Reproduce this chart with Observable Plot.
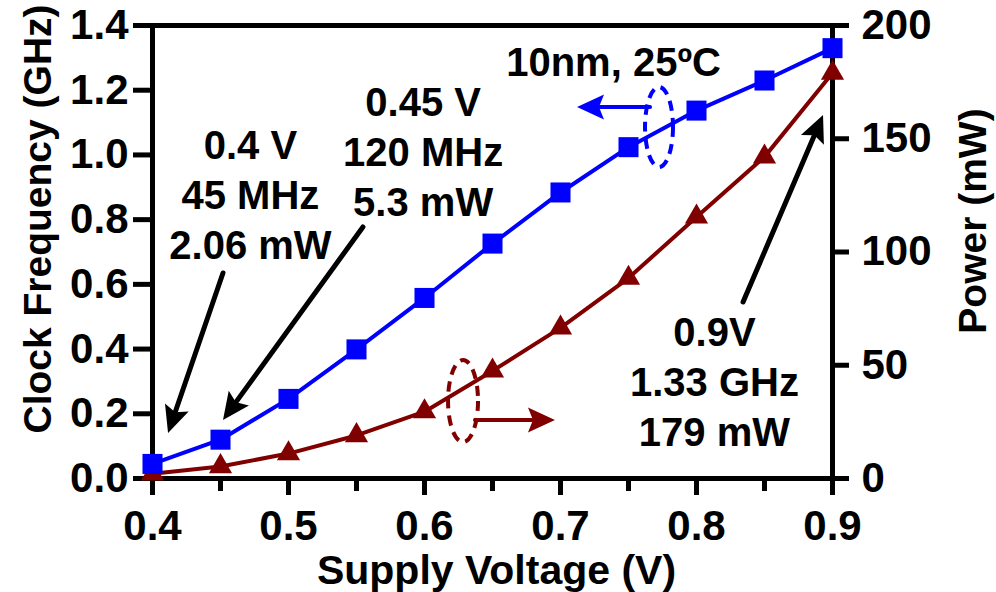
<!DOCTYPE html>
<html>
<head>
<meta charset="utf-8">
<script src="https://cdn.jsdelivr.net/npm/d3@7"></script>
<script src="https://cdn.jsdelivr.net/npm/@observablehq/plot@0.6"></script>
<style>
  html, body { margin: 0; padding: 0; background: #fff; }
  svg { display: block; }
</style>
</head>
<body>
<div id="chart"></div>
<script>
// ---- data ----
const voltage = [0.4, 0.45, 0.5, 0.55, 0.6, 0.65, 0.7, 0.75, 0.8, 0.85, 0.9];
const frequencyGHz = [0.045, 0.12, 0.246, 0.399, 0.558, 0.726, 0.884, 1.024, 1.137, 1.23, 1.33];
const powerMW = [2.06, 5.3, 11, 19, 29.5, 47.5, 66.5, 88.5, 115.5, 142, 179];

const xTicks = [0.4, 0.5, 0.6, 0.7, 0.8, 0.9];
const xMinorTicks = [0.45, 0.55, 0.65, 0.75, 0.85];
const freqTicks = [0, 0.2, 0.4, 0.6, 0.8, 1.0, 1.2, 1.4];
const powerTicks = [0, 50, 100, 150, 200];

const xLabel = "Supply Voltage (V)";
const yLeftLabel = "Clock Frequency (GHz)";
const yRightLabel = "Power (mW)";

// annotations (data coordinates: volts, GHz)
const noteText = ["0.4 V\n45 MHz\n2.06 mW", "0.45 V\n120 MHz\n5.3 mW", "0.9V\n1.33 GHz\n179 mW", "10nm, 25ºC"];
const noteX = [0.472, 0.599, 0.8132, 0.739];
const noteY = [0.881, 1.0137, 0.3029, 1.292];

const arrowX1 = [0.4522, 0.5551, 0.8346, 0.7662, 0.6375];
const arrowY1 = [0.6336, 0.7757, 0.5439, 1.1466, 0.1793];
const arrowX2 = [0.4118, 0.4522, 0.8934, 0.7125, 0.6963];
const arrowY2 = [0.1391, 0.1793, 1.1218, 1.1466, 0.1793];
const arrowColor = ["#000000", "#000000", "#000000", "#0000ff", "#800000"];

const ellipseX = [0.7728, 0.6287];
const ellipseY = [1.0848, 0.238];
const ellipseColor = ["#0000ff", "#800000"];

// ---- build ----
const fMax = 1.4, pMax = 200;
const k = fMax / pMax; // power -> left-axis units
const freqData = voltage.map((v, i) => ({v, f: frequencyGHz[i]}));
const powData = voltage.map((v, i) => ({v, p: powerMW[i] * k}));
const notes = noteText.map((t, i) => ({t, x: noteX[i], y: noteY[i]}));

const font = "'Liberation Sans', Arial, Helvetica, sans-serif";

const plot = Plot.plot({
  width: 996,
  height: 592,
  marginLeft: 152,
  marginRight: 164,
  marginTop: 25,
  marginBottom: 114,
  style: {fontFamily: font, fontWeight: "bold", color: "black", background: "white", overflow: "visible"},
  x: {domain: [0.4, 0.9]},
  y: {domain: [0, fMax]},
  marks: [
    Plot.axisX({ticks: xTicks, tickSize: 17, tickPadding: 15, strokeWidth: 5, fontSize: 42, fontWeight: "bold", tickFormat: d => d.toFixed(1), label: null}),
    Plot.axisX({ticks: xMinorTicks, tickSize: 13, strokeWidth: 5, text: null, label: null}),
    Plot.axisY({ticks: freqTicks, tickSize: 19, tickPadding: 5, strokeWidth: 5, fontSize: 42, fontWeight: "bold", tickFormat: d => d.toFixed(1), label: null}),
    Plot.axisY({anchor: "right", ticks: powerTicks.map(p => p * k), tickSize: 16, tickPadding: 13, strokeWidth: 5, fontSize: 42, fontWeight: "bold", tickFormat: d => String(Math.round(d / k)), label: null}),
    Plot.frame({stroke: "black", strokeWidth: 5}),
    Plot.line(powData, {x: "v", y: "p", stroke: "#800000", strokeWidth: 4}),
    Plot.dot(powData, {x: "v", y: "p", symbol: "triangle", r: 8.6, fill: "#800000", stroke: "none"}),
    Plot.line(freqData, {x: "v", y: "f", stroke: "#0000ff", strokeWidth: 4}),
    Plot.dot(freqData, {x: "v", y: "f", symbol: "square", r: 11.3, fill: "#0000ff", stroke: "none"}),
    Plot.text(notes, {x: "x", y: "y", text: "t", fontSize: 40, fontWeight: "bold", lineHeight: 1.25, fill: "black"}),
    Plot.text([xLabel], {frameAnchor: "bottom", textAnchor: "middle", lineAnchor: "middle", dx: 4, dy: 92, fontSize: 41, fontWeight: "bold", fill: "black"}),
    Plot.text([yLeftLabel], {frameAnchor: "left", textAnchor: "middle", lineAnchor: "middle", rotate: -90, dx: -114, dy: -33, fontSize: 39, fontWeight: "bold", fill: "black"}),
    Plot.text([yRightLabel], {frameAnchor: "right", textAnchor: "middle", lineAnchor: "middle", rotate: -90, dx: 141, dy: -31, fontSize: 39, fontWeight: "bold", fill: "black"})
  ]
});

document.getElementById("chart").appendChild(plot);

// ---- decorations positioned through the plot's scales ----
const sx = plot.scale("x"), sy = plot.scale("y");
const svg = d3.select(plot);
const deco = svg.append("g").attr("class", "annotations");

ellipseX.forEach((ex, i) => {
  deco.append("ellipse")
    .attr("cx", sx.apply(ex)).attr("cy", sy.apply(ellipseY[i]))
    .attr("rx", i === 0 ? 14 : 15).attr("ry", i === 0 ? 40 : 41)
    .attr("fill", "none").attr("stroke", ellipseColor[i])
    .attr("stroke-width", 4).attr("stroke-dasharray", "10,7");
});

arrowX1.forEach((ax, i) => {
  const x1 = sx.apply(ax), y1 = sy.apply(arrowY1[i]);
  const x2 = sx.apply(arrowX2[i]), y2 = sy.apply(arrowY2[i]);
  const dx = x2 - x1, dy = y2 - y1, len = Math.hypot(dx, dy);
  const ux = dx / len, uy = dy / len;
  const hl = 27, hw = 12.5;
  const bx = x2 - ux * hl, by = y2 - uy * hl;
  const color = arrowColor[i];
  deco.append("line")
    .attr("x1", x1).attr("y1", y1).attr("x2", bx + ux * 4).attr("y2", by + uy * 4)
    .attr("stroke", color).attr("stroke-width", i < 3 ? 5 : 4).attr("stroke-linecap", "round");
  const nx = -uy, ny = ux;
  const notch = 5;
  deco.append("path")
    .attr("d", `M${x2},${y2}L${bx + nx * hw},${by + ny * hw}L${bx + ux * notch},${by + uy * notch}L${bx - nx * hw},${by - ny * hw}Z`)
    .attr("fill", color);
});
</script>
</body>
</html>
